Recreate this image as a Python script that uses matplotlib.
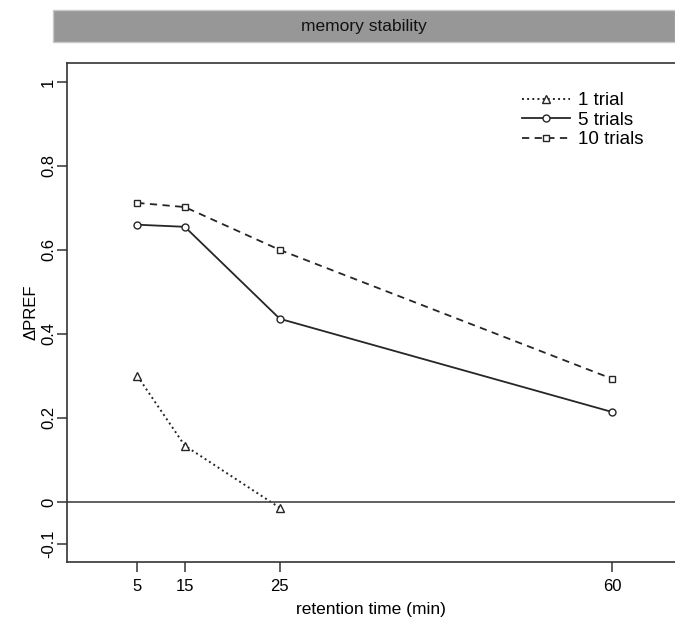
import numpy as np
import matplotlib.pyplot as plt
from matplotlib.patches import Rectangle

plt.rcParams['font.family'] = ['Liberation Sans', 'DejaVu Sans']

# retention times (plotted positions and their printed labels)
x_pos = [10, 15, 25, 60]
x_labels = ['5', '15', '25', '60']

# delta PREF values
one_trial = [0.300, 0.134, -0.014]
five_trials = [0.660, 0.655, 0.436, 0.214]
ten_trials = [0.712, 0.702, 0.600, 0.293]

y_ticks = [-0.1, 0, 0.2, 0.4, 0.6, 0.8, 1]
y_labels = ['-0.1', '0', '0.2', '0.4', '0.6', '0.8', '1']

fig = plt.figure(figsize=(6.75, 6.18), dpi=100)

# grey strip with the panel title
fig.patches.append(Rectangle((53 / 675, 1 - 42 / 618), 1 - 53 / 675, 32 / 618,
                             transform=fig.transFigure, facecolor='#979797',
                             edgecolor='#c8c8c8', linewidth=1))
fig.text((53 + 675) / 2 / 675, 1 - 26 / 618, 'memory stability',
         ha='center', va='center', fontsize=12.5, color='#111111')

ax = fig.add_axes([67 / 675, 56 / 618, 1 - 67 / 675, (562 - 63) / 618])

lc = '#262626'
ax.plot(x_pos[:3], one_trial, linestyle=':', color=lc, linewidth=1.4,
        marker='^', markersize=5.5, markerfacecolor='white', markeredgecolor=lc,
        label='1 trial')
ax.plot(x_pos, five_trials, linestyle='-', color=lc, linewidth=1.3,
        marker='o', markersize=5, markerfacecolor='white', markeredgecolor=lc,
        label='5 trials')
ax.plot(x_pos, ten_trials, linestyle=(0, (4, 3)), color=lc, linewidth=1.3,
        marker='s', markersize=5, markerfacecolor='white', markeredgecolor=lc,
        label='10 trials')

ax.axhline(0, color='#444444', linewidth=1.2)

ax.set_xlim(2.6, 66.6)
ax.set_ylim(-0.143, 1.045)

ax.set_xticks(x_pos)
ax.set_xticklabels(x_labels, fontsize=12)
ax.set_yticks(y_ticks)
ax.set_yticklabels(y_labels, fontsize=12, rotation=90, va='center')
ax.tick_params(direction='out', length=7, width=1.1, color='#333333')
ax.tick_params(axis='x', pad=5)
ax.tick_params(axis='y', pad=1)

for s in ['left', 'top', 'bottom']:
    ax.spines[s].set_linewidth(1.2)
    ax.spines[s].set_color('#333333')
ax.spines['right'].set_visible(False)

ax.set_xlabel('retention time (min)', fontsize=12.5, labelpad=6)
ax.set_ylabel('\u0394PREF', fontsize=12, labelpad=2)

ax.legend(loc='upper left', bbox_to_anchor=(0.72, 0.975), frameon=False,
          fontsize=13.5, handlelength=2.6, handletextpad=0.4, labelspacing=0.12)

fig.savefig('out.png', dpi=100)
